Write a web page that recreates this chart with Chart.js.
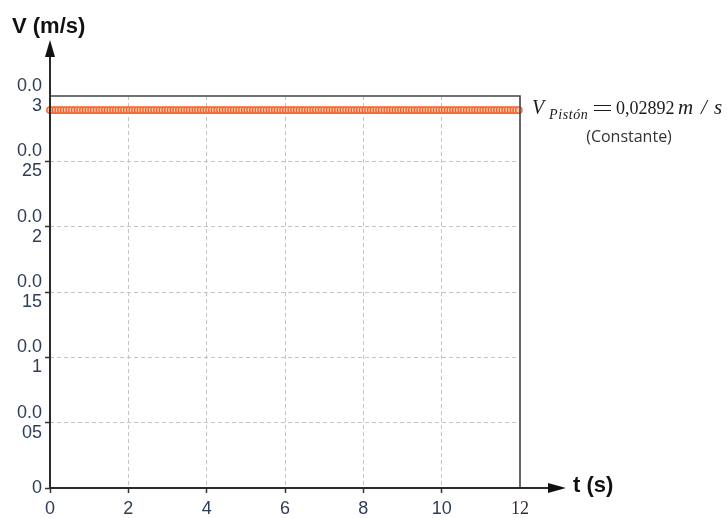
<!DOCTYPE html>
<html>
<head>
<meta charset="utf-8">
<script src="https://cdn.jsdelivr.net/npm/chart.js@4.4.0/dist/chart.umd.min.js"></script>
<style>
  html, body { margin: 0; padding: 0; background: #fff; }
  #grafica { display: block; }
</style>
</head>
<body>
<canvas id="grafica" width="727" height="518"></canvas>
<script>
// velocidad del pistón frente al tiempo (constante)
const tiempoMax = 12;
const pasoMuestreo = 0.07;          // s entre muestras
const velocidadPiston = 0.02892;    // m/s
const ticksX = [0, 2, 4, 6, 8, 10, 12];
const ticksY = [0, 0.005, 0.01, 0.015, 0.02, 0.025, 0.03];
const etiquetasY = [['0'], ['0.0', '05'], ['0.0', '1'], ['0.0', '15'], ['0.0', '2'], ['0.0', '25'], ['0.0', '3']];

const puntos = [];
for (let i = 0; i * pasoMuestreo <= tiempoMax + 1e-9; i++) {
    puntos.push({ x: +(i * pasoMuestreo).toFixed(2), y: velocidadPiston });
}

const colorTexto = '#2e3d58';
const colorRejilla = '#c4c4c4';

const ejesYTexto = {
    id: 'ejesYTexto',
    afterDraw(chart) {
        const c = chart.ctx;
        const a = chart.chartArea;
        c.save();

        // marco superior y derecho
        c.strokeStyle = '#444';
        c.lineWidth = 1.6;
        c.beginPath();
        c.moveTo(a.left, a.top);
        c.lineTo(a.right, a.top);
        c.lineTo(a.right, a.bottom);
        c.stroke();

        // ejes con flecha
        c.strokeStyle = '#2a2a2a';
        c.fillStyle = '#111';
        c.lineWidth = 2;
        c.beginPath();
        c.moveTo(a.left, a.bottom);
        c.lineTo(a.left, 56);
        c.moveTo(a.left, a.bottom);
        c.lineTo(549, a.bottom);
        c.stroke();

        c.beginPath();
        c.moveTo(a.left, 40);
        c.lineTo(a.left - 5, 57);
        c.lineTo(a.left + 5, 57);
        c.closePath();
        c.fill();

        c.beginPath();
        c.moveTo(566, a.bottom);
        c.lineTo(548, a.bottom - 5);
        c.lineTo(548, a.bottom + 5);
        c.closePath();
        c.fill();

        // títulos de ejes
        c.fillStyle = '#111';
        c.font = 'bold 22px "Liberation Sans", Arial, sans-serif';
        c.textBaseline = 'alphabetic';
        c.textAlign = 'left';
        c.fillText('V (m/s)', 12, 33);
        c.fillText('t (s)', 573, 492);

        // anotación de la velocidad
        c.fillStyle = '#1a1a1a';
        c.font = 'italic 20px "Liberation Serif", serif';
        c.fillText('V', 532, 114);
        c.font = 'italic 14px "Liberation Serif", serif';
        c.letterSpacing = '0.6px';
        c.fillText('Pistón', 549, 119);
        c.letterSpacing = '0px';
        c.strokeStyle = '#1a1a1a';
        c.lineWidth = 1;
        c.beginPath();
        c.moveTo(594, 105.5);
        c.lineTo(611, 105.5);
        c.moveTo(594, 110.5);
        c.lineTo(611, 110.5);
        c.stroke();
        c.font = '18px "Liberation Serif", serif';
        c.fillText('0,02892', 616, 114);
        c.font = 'italic 21px "Liberation Serif", serif';
        c.fillText('m', 678, 114);
        c.fillText('/', 701, 114);
        c.fillText('s', 714, 114);

        c.fillStyle = '#333';
        c.font = '16px "Open Sans", sans-serif';
        c.textAlign = 'center';
        c.textBaseline = 'middle';
        c.fillText('(Constante)', 629, 137);

        c.restore();
    }
};

new Chart(document.getElementById('grafica'), {
    type: 'scatter',
    data: {
        datasets: [{
            label: 'V pistón',
            data: puntos,
            showLine: false,
            pointRadius: 3.2,
            pointBorderWidth: 1.4,
            pointBorderColor: '#f4632c',
            pointBackgroundColor: '#fbc9b2',
            clip: false
        }]
    },
    options: {
        responsive: false,
        animation: false,
        events: [],
        layout: { padding: { top: 96, right: 207, left: 0, bottom: 0 } },
        plugins: {
            legend: { display: false },
            tooltip: { enabled: false }
        },
        scales: {
            x: {
                type: 'linear',
                min: 0,
                max: tiempoMax,
                afterBuildTicks: (s) => { s.ticks = ticksX.map(v => ({ value: v })); },
                afterFit: (s) => { s.height = 30; },
                ticks: {
                    padding: 5,
                    color: (ctx) => ctx.tick && ctx.tick.value === 12 ? '#3a2a2a' : colorTexto,
                    font: (ctx) => ctx.tick && ctx.tick.value === 12
                        ? { family: '"Liberation Serif", serif', size: 18 }
                        : { family: '"Liberation Sans", Arial, sans-serif', size: 18 },
                    callback: (v) => String(v)
                },
                grid: {
                    color: (ctx) => (ctx.tick && (ctx.tick.value === 0 || ctx.tick.value === tiempoMax)) ? 'rgba(0,0,0,0)' : colorRejilla,
                    lineWidth: 1,
                    tickLength: 5,
                    tickColor: (ctx) => (ctx.tick && ctx.tick.value === tiempoMax) ? 'rgba(0,0,0,0)' : '#333',
                    tickWidth: 1.5,
                    tickBorderDash: []
                },
                border: { display: false, dash: [4, 3] }
            },
            y: {
                type: 'linear',
                min: 0,
                max: 0.03,
                afterBuildTicks: (s) => { s.ticks = ticksY.map(v => ({ value: v })); },
                afterFit: (s) => { s.width = 50; },
                ticks: {
                    padding: 3,
                    color: colorTexto,
                    font: { family: '"Liberation Sans", Arial, sans-serif', size: 18, lineHeight: 1.1 },
                    callback: (v) => etiquetasY[ticksY.indexOf(v)]
                },
                grid: {
                    color: (ctx) => (ctx.tick && (ctx.tick.value === 0 || ctx.tick.value === 0.03)) ? 'rgba(0,0,0,0)' : colorRejilla,
                    lineWidth: 1,
                    tickLength: 5,
                    tickColor: (ctx) => (ctx.tick && ctx.tick.value === 0.03) ? 'rgba(0,0,0,0)' : '#333',
                    tickWidth: 1.5,
                    tickBorderDash: []
                },
                border: { display: false, dash: [4, 3] }
            }
        }
    },
    plugins: [ejesYTexto]
});
</script>
</body>
</html>
